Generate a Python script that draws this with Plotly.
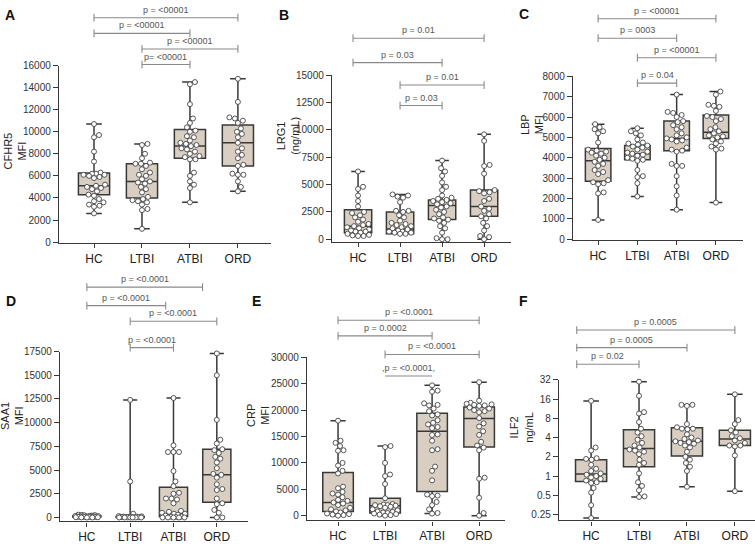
import numpy as np
import plotly.graph_objects as go

GROUPS = ["HC", "LTBI", "ATBI", "ORD"]

# ---------------- data ----------------
# A: CFHR5 (MFI)
A_HC = [10700, 9700, 9500, 8200, 7300, 6300, 6200, 6200, 6100, 6100, 6000, 5900, 5800, 5200, 5100,
        5000, 4900, 4800, 4600, 4300, 4200, 3900, 3700, 3600, 3400, 3300, 3200, 2600]
A_LTBI = [8900, 8800, 8000, 7600, 7200, 7100, 7100, 6900, 6600, 6300, 6100, 6000, 5700, 5500, 5400,
          5300, 5000, 4800, 4500, 4100, 3900, 3800, 3700, 3600, 3400, 3000, 2900, 1200]
A_ATBI = [14500, 14300, 12500, 11200, 10800, 10400, 10100, 10000, 9600, 9500, 9200, 9000, 8900, 8800,
          8700, 8500, 8400, 8200, 8000, 7800, 7700, 7500, 7500, 6300, 6000, 5500, 5200, 4900, 3600]
A_ORD = [14800, 12700, 11300, 11200, 11000, 10800, 10300, 10000, 9800, 9500, 9000, 8500, 8200, 7900,
         7600, 7000, 6900, 6200, 6100, 6100, 5500, 5000, 4600]
A_Q1 = [4300, 4000, 7600, 6900]
A_MED = [5100, 5500, 8700, 9000]
A_Q3 = [6250, 7100, 10200, 10600]
A_CMP = [(0, 3, "p = <00001"), (0, 2, "p = <00001"), (1, 3, "p = <00001"), (1, 2, "p= <00001")]

# B: LRG1 (ng/mL)
B_HC = [6200, 4800, 4600, 4000, 3500, 3000, 2500, 2400, 2200, 2000, 1800, 1600, 1400, 1300, 1200,
        1100, 1000, 900, 800, 700, 700, 600, 500, 400, 350, 300, 300]
B_LTBI = [4100, 4000, 3900, 3800, 3400, 2600, 2600, 2500, 2200, 2000, 1700, 1500, 1400, 1300, 1200,
          1100, 1000, 900, 800, 700, 700, 600, 600, 500, 500]
B_ATBI = [7200, 6500, 6200, 5800, 5200, 4800, 4500, 4000, 3800, 3700, 3600, 3500, 3400, 3300, 3200,
          3000, 2900, 2700, 2500, 2300, 2000, 1900, 1800, 1700, 1500, 1200, 1000, 600, 100, 0, 0]
B_ORD = [9600, 9000, 6800, 6700, 6000, 4500, 4400, 4300, 4200, 3700, 3500, 3000, 2800, 2600, 2300,
         2100, 1900, 1500, 1200, 800, 300, 200, 0]
B_Q1 = [600, 500, 1800, 2100]
B_MED = [1200, 950, 3100, 3000]
B_Q3 = [2700, 2500, 3600, 4500]
B_CMP = [(0, 3, "p = 0.01"), (0, 2, "p = 0.03"), (1, 3, "p = 0.01"), (1, 2, "p = 0.03")]

# C: LBP (MFI)
C_HC = [5650, 5500, 5400, 5300, 5200, 4750, 4400, 4350, 4300, 4250, 4200, 4100, 4000, 3900, 3800,
        3700, 3600, 3400, 3300, 3200, 2900, 2800, 2750, 2700, 2300, 2250, 950]
C_LTBI = [5450, 5300, 5200, 5100, 4900, 4750, 4700, 4650, 4600, 4550, 4500, 4400, 4300, 4250, 4200,
          4150, 4100, 4000, 3950, 3900, 3850, 3400, 3100, 3050, 2750, 2100]
C_ATBI = [7100, 6250, 6200, 6100, 6000, 5800, 5750, 5600, 5500, 5400, 5200, 5100, 5000, 4950, 4900,
          4850, 4800, 4500, 4400, 4350, 4300, 3700, 3600, 3600, 3100, 2600, 2150, 1450]
C_ORD = [7250, 7100, 6600, 6550, 6500, 6300, 6050, 6000, 5900, 5800, 5500, 5400, 5300, 5200, 5100,
         5050, 5000, 4900, 4800, 4700, 4550, 4450, 4400, 1800]
C_Q1 = [2850, 3900, 4350, 4950]
C_MED = [3850, 4200, 4950, 5250]
C_Q3 = [4450, 4600, 5800, 6100]
C_CMP = [(0, 3, "p = <00001"), (0, 2, "p = 0003"), (1, 3, "p = <00001"), (1, 2, "p = 0.04")]

# D: SAA1 (MFI)
D_HC = [300, 280, 250, 230, 200, 180, 170, 150, 140, 130, 120, 110, 100, 100, 90, 80, 70, 60, 50,
        40, 30, 20, 10, 0, 0]
D_LTBI = [12400, 3800, 400, 150, 120, 100, 90, 80, 70, 60, 50, 50, 40, 30, 20, 10, 0, 0, 0, 0, 0, 0]
D_ATBI = [12600, 7600, 6900, 6900, 6900, 4900, 3800, 3300, 2600, 2500, 2000, 2000, 1900, 1500, 700,
          600, 500, 400, 400, 300, 200, 100, 100, 50, 0, 0, 0, 0, 0]
D_ORD = [17300, 15000, 10300, 8200, 7800, 7200, 7100, 6800, 6400, 6200, 5800, 5200, 4600, 4500,
         4200, 3500, 3000, 2900, 2000, 1500, 1400, 800, 500, 0, 0]
D_Q1 = [50, 0, 100, 1600]
D_MED = [100, 30, 400, 4500]
D_Q3 = [170, 80, 3200, 7200]
D_CMP = [(0, 3, "p = <0.0001"), (0, 2, "p = <0.0001"), (1, 3, "p = <0.0001"), (1, 2, "p = <0.0001")]

# E: CRP (MFI)
E_HC = [18000, 14200, 13800, 13200, 12400, 12300, 10000, 9500, 8500, 8000, 5500, 5200, 4500, 4200,
        4000, 3500, 3000, 2800, 2500, 2300, 2000, 1500, 1200, 1000, 800, 600, 400, 300, 200, 100, 0]
E_LTBI = [13200, 13000, 10000, 7800, 7500, 6000, 3300, 2200, 2100, 2000, 2000, 1900, 1800, 1700,
          1500, 1200, 1000, 800, 700, 600, 500, 400, 300, 200, 100, 0]
E_ATBI = [24700, 23700, 23500, 21300, 21000, 20900, 20300, 19800, 19200, 19000, 18100, 17600, 17300,
          16800, 16600, 15400, 15300, 14200, 12600, 12400, 9300, 8500, 6700, 4000, 3800, 3700, 2600,
          2000, 1200, 500, 400]
E_ORD = [25300, 21800, 21400, 21200, 21100, 21000, 20900, 20800, 20500, 20300, 20000, 19800, 19600,
         18500, 17500, 16900, 16000, 15300, 14000, 13300, 12900, 12400, 7200, 7000, 3400, 500, 0]
E_Q1 = [800, 500, 4600, 13000]
E_MED = [2500, 1900, 16000, 18400]
E_Q3 = [8200, 3300, 19400, 20600]
E_CMP = [(0, 3, "p = <0.0001"), (0, 2, "p = 0.0002"), (1, 3, "p = <0.0001"), (1, 2, ",p = <0.0001,")]

# F: ILF2 (ng/mL, log scale)
F_HC = [15, 2.8, 2.5, 1.9, 1.85, 1.8, 1.5, 1.3, 1.2, 1.1, 1.05, 1.0, 0.95, 0.9, 0.85, 0.8, 0.78,
        0.65, 0.55, 0.35, 0.22]
F_LTBI = [30, 18, 10, 9.5, 7, 5.5, 4.8, 4.2, 3.7, 3.3, 3.0, 2.8, 2.6, 2.5, 2.4, 2.2, 1.8, 1.6, 1.5,
          1.1, 0.8, 0.7, 0.6, 0.48, 0.47]
F_ATBI = [13, 13, 12.5, 6.5, 5.8, 5.5, 5.5, 5.4, 4.5, 4.0, 3.8, 3.6, 3.5, 3.4, 3.3, 3.2, 3.0, 2.8,
          2.4, 2.0, 1.8, 1.6, 1.4, 1.2, 0.68]
F_ORD = [19, 7.5, 6.5, 5.2, 4.8, 4.2, 3.9, 3.6, 3.3, 3.0, 3.0, 2.9, 2.1, 0.58]
F_Q1 = [0.82, 1.4, 2.05, 3.0]
F_MED = [1.08, 2.7, 3.5, 3.8]
F_Q3 = [1.8, 5.3, 5.7, 5.2]
F_CMP = [(0, 3, "p = 0.0005"), (0, 2, "p = 0.0005"), (0, 1, "p = 0.02")]
F_TICKS = [0.25, 0.5, 1, 2, 4, 8, 16, 32]

# ---------------- layout (pixel geometry, in window pixels) ----------------
W, H = 755, 544
FONT = "Liberation Sans, Arial, Helvetica, sans-serif"
BOX_FILL = "#d8cec1"
DARK = "#383838"
BR_COL = "#8a8a8a"
BOXW = 0.65

PANELS = [
    dict(letter="A", data=[A_HC, A_LTBI, A_ATBI, A_ORD], q1=A_Q1, med=A_MED, q3=A_Q3, cmp=A_CMP,
         title="CFHR5<br>MFI", x0=59, x1=271, ytop=61, ybot=243, xr=[-0.73, 3.69], yr=[-100, 16000],
         dtick=2000, log=False, br_y=[12, 28, 44, 60], br_nudge=[(0, 0)] * 4, br_ticks=[1, 1, 1, 1],
         letter_xy=(10, 9), title_xy=(15, 149)),
    dict(letter="B", data=[B_HC, B_LTBI, B_ATBI, B_ORD], q1=B_Q1, med=B_MED, q3=B_Q3, cmp=B_CMP,
         title="LRG1<br>(ng/mL)", x0=332, x1=511, ytop=71, ybot=242, xr=[-0.62, 3.64], yr=[-270, 15000],
         dtick=2500, log=False, br_y=[33, 58, 81, 102], br_nudge=[(-0.12, 0), (-0.12, 0), (0, 0), (0, 0)],
         br_ticks=[1, 1, 1, 1], letter_xy=(284, 9), title_xy=(288, 133)),
    dict(letter="C", data=[C_HC, C_LTBI, C_ATBI, C_ORD], q1=C_Q1, med=C_MED, q3=C_Q3, cmp=C_CMP,
         title="LBP<br>MFI", x0=573, x1=743, ytop=72, ybot=240, xr=[-0.64, 3.69], yr=[-50, 8000],
         dtick=1000, log=False, br_y=[13, 33, 53, 79], br_nudge=[(0, 0)] * 4, br_ticks=[1, 1, 1, 1],
         letter_xy=(524, 8), title_xy=(532, 122)),
    dict(letter="D", data=[D_HC, D_LTBI, D_ATBI, D_ORD], q1=D_Q1, med=D_MED, q3=D_Q3, cmp=D_CMP,
         title="SAA1<br>MFI", x0=60, x1=248, ytop=354, ybot=528, xr=[-0.62, 3.72], yr=[-410, 17500],
         dtick=2500, log=False, br_y=[288, 307, 323, 350], br_nudge=[(0, -0.33), (0, -0.18), (0, 0), (0, 0)],
         br_ticks=[1, 1, 1, 1], letter_xy=(11, 302), title_xy=(12, 420)),
    dict(letter="E", data=[E_HC, E_LTBI, E_ATBI, E_ORD], q1=E_Q1, med=E_MED, q3=E_Q3, cmp=E_CMP,
         title="CRP<br>MFI", x0=307, x1=505, ytop=360, ybot=527, xr=[-0.66, 3.55], yr=[-900, 30000],
         dtick=5000, log=False, br_y=[322, 338, 357, 379], br_nudge=[(0, 0)] * 4, br_ticks=[1, 1, 1, 0],
         letter_xy=(256, 302), title_xy=(258, 420)),
    dict(letter="F", data=[F_HC, F_LTBI, F_ATBI, F_ORD], q1=F_Q1, med=F_MED, q3=F_Q3, cmp=F_CMP,
         title="ILF2<br>ng/mL", x0=559, x1=755, ytop=383, ybot=527, xr=[-0.67, 3.42],
         yr=[np.log10(0.25) - 0.092, np.log10(32)], dtick=None, log=True, br_y=[332, 350, 367],
         br_nudge=[(-0.3, 0)] * 3, br_ticks=[1, 1, 1], letter_xy=(523, 302), title_xy=(521, 432)),
]


def swarm_offsets(vals, ppu, log, diam, maxw, step=0.5):
    v = np.asarray(vals, float)
    ypx = (np.log10(v) if log else v) * ppu
    order = np.argsort(ypx, kind="stable")
    cands = [0.0]
    k = 1
    while k * step <= maxw:
        cands += [k * step, -k * step]
        k += 1
    xs = np.zeros(len(v))
    placed = []
    for i in order:
        y = ypx[i]
        near = [(a, b) for a, b in placed if abs(b - y) < diam]
        chosen, bestd, bestc = None, -1.0, 0.0
        for c in cands:
            if not near:
                chosen = c
                break
            d = min(np.hypot(c - a, y - b) for a, b in near)
            if d >= diam:
                chosen = c
                break
            if d > bestd:
                bestd, bestc = d, c
        if chosen is None:
            chosen = bestc
        xs[i] = chosen
        placed.append((chosen, y))
    return xs


def px(X):
    return X / W


def py(Y):
    return 1 - Y / H


fig = go.Figure()
shapes, annots = [], []
layout_axes = {}

for n, P in enumerate(PANELS, start=1):
    xa, ya = f"x{n}", f"y{n}"
    ppx = (P["x1"] - P["x0"]) / (P["xr"][1] - P["xr"][0])
    ppu = (P["ybot"] - P["ytop"]) / (P["yr"][1] - P["yr"][0])
    # boxes
    for i, vals in enumerate(P["data"]):
        fig.add_trace(go.Box(
            x=[i], q1=[P["q1"][i]], median=[P["med"][i]], q3=[P["q3"][i]],
            lowerfence=[min(vals)], upperfence=[max(vals)], width=BOXW, whiskerwidth=0.5,
            fillcolor=BOX_FILL, line=dict(color=DARK, width=1.5), boxpoints=False,
            xaxis=xa, yaxis=ya, hoverinfo="skip", showlegend=False))
    # points
    for i, vals in enumerate(P["data"]):
        offs = swarm_offsets(vals, ppu, P["log"], 5.2, BOXW * ppx / 2 - 2.5)
        fig.add_trace(go.Scatter(
            x=i + offs / ppx, y=vals, mode="markers",
            marker=dict(size=5, color="white", line=dict(color="#444444", width=0.9)),
            xaxis=xa, yaxis=ya, hoverinfo="skip", showlegend=False, cliponaxis=False))

    xdom = [px(P["x0"]), min(1.0, px(P["x1"]))]
    ydom = [py(P["ybot"]), py(P["ytop"])]
    key = "" if n == 1 else str(n)
    layout_axes["xaxis" + key] = dict(
        domain=xdom, anchor=ya, range=P["xr"], tickvals=list(range(4)), ticktext=GROUPS,
        showline=True, linecolor=DARK, linewidth=1.4, ticks="outside", ticklen=4, tickcolor=DARK,
        tickwidth=1.2, showgrid=False, zeroline=False, tickfont=dict(size=12, color="#222", family=FONT))
    yax = dict(domain=ydom, anchor=xa, range=P["yr"], showline=True, linecolor=DARK, linewidth=1.4,
               ticks="outside", ticklen=5, tickcolor=DARK, tickwidth=1.2, showgrid=False,
               zeroline=False, tickfont=dict(size=10, color="#333", family=FONT))
    if P["log"]:
        yax.update(type="log", tickvals=F_TICKS, ticktext=[f"{t:g}" for t in F_TICKS])
    else:
        yax.update(tick0=0, dtick=P["dtick"], tickformat="d")
    layout_axes["yaxis" + key] = yax

    # significance brackets
    for (g0, g1, label), yb, (n0, n1), tk in zip(P["cmp"], P["br_y"], P["br_nudge"], P["br_ticks"]):
        xl, xr_ = g0 + n0, g1 + n1
        shapes.append(dict(type="line", xref=xa, yref="paper", x0=xl, x1=xr_, y0=py(yb), y1=py(yb),
                           line=dict(color=BR_COL, width=1.1)))
        if tk:
            for xe in (xl, xr_):
                shapes.append(dict(type="line", xref=xa, yref="paper", x0=xe, x1=xe,
                                   y0=py(yb - 4), y1=py(yb + 4), line=dict(color=BR_COL, width=1.1)))
        annots.append(dict(x=(xl + xr_) / 2, y=py(yb - 1), xref=xa, yref="paper", text=label,
                           showarrow=False, xanchor="center", yanchor="bottom",
                           font=dict(size=9, color="#555", family=FONT)))
    # panel letter
    annots.append(dict(x=px(P["letter_xy"][0]), y=py(P["letter_xy"][1]), xref="paper", yref="paper",
                       text=f"<b>{P['letter']}</b>", showarrow=False, xanchor="center", yanchor="middle",
                       font=dict(size=14, color="#111", family=FONT)))
    # y title
    annots.append(dict(x=px(P["title_xy"][0]), y=py(P["title_xy"][1]), xref="paper", yref="paper",
                       text=P["title"], showarrow=False, textangle=-90, xanchor="center",
                       yanchor="middle", font=dict(size=11, color="#222", family=FONT)))

fig.update_layout(
    width=W, height=H, margin=dict(l=0, r=0, t=0, b=0), paper_bgcolor="white",
    plot_bgcolor="rgba(0,0,0,0)", showlegend=False, shapes=shapes, annotations=annots,
    font=dict(family=FONT), **layout_axes)

fig.write_html("out.html", config={"displayModeBar": False},
               post_script="document.body.style.margin='0';")
